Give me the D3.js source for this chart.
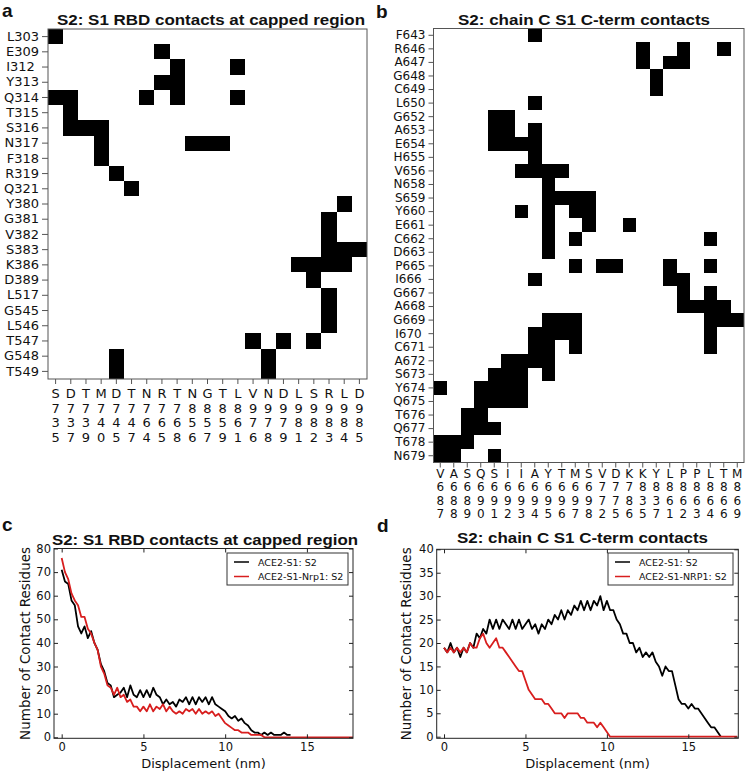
<!DOCTYPE html>
<html><head><meta charset="utf-8">
<script src="https://cdn.jsdelivr.net/npm/d3@7"></script>
<style>
body{margin:0;background:#fff}
svg{display:block}
text{font-family:"DejaVu Sans",sans-serif;fill:#111}
.ttl{font-family:"Liberation Sans",Arial,sans-serif;font-weight:bold}
</style>
</head><body><svg id="chart" width="747" height="774"></svg>
<script>
// ---------- Panel a: S2 residues (rows) vs S1 RBD residues (columns)
const rowsA = ["L303","E309","I312 ","Y313","Q314","T315","S316","N317","F318","R319","Q321","Y380","G381","V382","S383","K386","D389","L517","G545","L546","T547","G548","T549"];
const colsA = ["S735","D737","T739","M740","D745","T747","N764","R765","T768","N856","G857","T859","L861","V976","N978","D979","L981","S982","R983","L984","D985"];
// contacting column indices for each row of rowsA
const contactsA = [[0],[7],[8,12],[7,8],[0,1,6,8,12],[1],[1,2,3],[3,9,10,11],[3],[4],[5],[19],[18],[18],[18,19,20],[16,17,18,19],[17],[18],[18],[18],[13,15,17],[4,14],[4,14]];

// ---------- Panel b: chain C S1 C-term contacts
const rowsB = ["F643","R646","A647","G648","C649","L650","G652","A653","E654","H655","V656","N658","S659","Y660","E661","C662","D663","P665","I666 ","G667","A668","G669","I670 ","C671","A672","S673","Y674","Q675","T676","Q677","T678","N679"];
const colsB = ["V687","A688","S689","Q690","S691","I692","I693","A694","Y695","T696","M697","S698","V772","D775","K786","K835","Y837","L861","P862","P863","L864","T866","M869"];
const contactsB = [[7],[15,18,21],[15,17,18],[16],[16],[7],[4,5],[4,5,7],[4,5,6,7],[7],[6,7,8,9],[8],[8,9,10,11],[6,8,10,11],[8,11,14],[8,10,20],[8],[10,12,13,17,20],[7,17,18],[18,20],[18,19,20,21],[8,9,10,20,21,22],[7,8,9,10,20],[7,8,10,20],[5,6,7,8],[4,5,6,8],[0,3,4,5,6],[3,4,5,6],[2,3],[2,3,4],[0,1,2],[0,1,4]];

// ---------- Panels c, d: number of contact residues vs displacement (sampled every 0.2 nm from 0)
const stepNm = 0.2;
const cBlack = [71,66,65,58,56, 47,44,47,42,45, 40,37,31,28,23, 22,17,18,19,21, 17,22,18,17,20, 17,20,17,21,18, 17,14,16,14,15, 13,16,15,17,14, 17,14,17,15,17, 14,17,14,13,12, 11,9,8,9,7, 8,6,5,3,2, 2,1,2,1,2, 1,1,1,2,1, 1];
const cRed = [76,70,67,61,58, 56,51,51,46,44, 40,37,30,27,22, 21,18,21,17,18, 15,16,13,13,11, 13,11,14,11,13, 12,14,11,13,11, 10,11,10,12,11, 12,10,12,10,11, 10,11,9,10,8, 6,5,4,3,3, 2,2,2,1,1, 1,1,0,0,0, 0,0,0,0,0, 0,0,0,0,0, 0,0,0,0,0, 0,0,0,0,0, 0,0,0,0,0, 0];
const dBlack = [19,18,20,18,19, 17,19,18,20,19, 22,21,23,22,25, 23,25,23,25,24, 23,25,23,25,23, 24,25,23,24,22, 24,23,25,24,26, 25,27,25,27,26, 28,27,29,27,29, 27,29,28,30,27, 29,27,27,25,24, 22,22,20,20,18, 19,17,18,17,18, 16,15,13,15,14, 14,11,8,7,7, 6,7,6,6,5, 4,3,2,2,1, 0];
const dRed = [19,18,19,18,19, 18,19,18,20,19, 19,21,22,20,19, 20,21,19,19,18, 17,16,15,14,14, 12,10,9,8,8, 8,7,7,6,5, 5,5,4,5,5, 5,5,4,4,3, 3,3,2,3,2, 1,0,0,0,0, 0,0,0,0,0, 0,0,0,0,0, 0,0,0,0,0, 0,0,0,0,0, 0,0,0,0,0, 0,0,0,0,0, 0,0,0,0,0, 0];
const legendC = ["ACE2-S1: S2","ACE2-S1-Nrp1: S2"];
const legendD = ["ACE2-S1: S2","ACE2-S1-NRP1: S2"];
const yTicksC = [0,10,20,30,40,50,60,70,80];
const yTicksD = [0,5,10,15,20,25,30,35,40];
const xTicks = [0,5,10,15];
const RED = "#d81e1e";

const svg = d3.select("#chart");

function heatmap(o){
  const x = d3.scaleBand().domain(o.cols).range([o.x0,o.x1]);
  const y = d3.scaleBand().domain(o.rows).range([o.y0,o.y1]);
  const g = svg.append("g");
  const cells = o.contacts.flatMap((cs,i)=>cs.map(c=>({r:o.rows[i], c:o.cols[c]})));
  g.selectAll("rect.cell").data(cells).join("rect").attr("class","cell")
    .attr("x",d=>x(d.c)).attr("y",d=>y(d.r))
    .attr("width",x.bandwidth()).attr("height",y.bandwidth())
    .attr("fill","#000").attr("shape-rendering","crispEdges");
  g.append("rect").attr("x",o.x0).attr("y",o.y0).attr("width",o.x1-o.x0).attr("height",o.y1-o.y0)
    .attr("fill","none").attr("stroke","#555").attr("stroke-width",1);
  const ya = g.append("g").attr("transform",`translate(${o.x0},0)`)
    .call(d3.axisLeft(y).tickSize(o.tick).tickPadding(o.pad));
  ya.select(".domain").remove();
  ya.selectAll("line").attr("stroke","#555");
  ya.selectAll("text").style("font-size",o.fs+"px").style("white-space","pre").attr("fill","#111");
  const xa = g.append("g").attr("transform",`translate(0,${o.y1})`)
    .call(d3.axisBottom(x).tickSize(5).tickFormat(""));
  xa.select(".domain").remove();
  xa.selectAll("line").attr("stroke","#555");
  const lab = g.selectAll("text.xl").data(o.cols).join("text").attr("class","xl")
    .attr("text-anchor","middle").style("font-size",o.fs+"px");
  lab.each(function(d){
    const t = d3.select(this);
    d.split("").forEach((ch,i)=>{
      t.append("tspan").attr("x",x(d)+x.bandwidth()/2).attr("y",o.lb+i*o.ls).text(ch);
    });
  });
}

heatmap({rows:rowsA, cols:colsA, contacts:contactsA, x0:48, x1:367, y0:29, y1:379, tick:6, pad:3, fs:13, lb:398, ls:14.7});
heatmap({rows:rowsB, cols:colsB, contacts:contactsB, x0:433.5, x1:744, y0:28.5, y1:462.5, tick:5, pad:3, fs:12, lb:478, ls:13.4});

function lineChart(o){
  const x = d3.scaleLinear().domain(o.xd).range([o.x0,o.x1]);
  const y = d3.scaleLinear().domain([0,o.ymax]).range([o.y0v,o.y80]);
  const g = svg.append("g");
  const cid = "clip"+o.id;
  g.append("clipPath").attr("id",cid).append("rect")
    .attr("x",o.x0).attr("y",o.yt).attr("width",o.x1-o.x0).attr("height",o.yb-o.yt);
  const line = d3.line().x((d,i)=>x(i*stepNm)).y(d=>y(d));
  g.append("path").datum(o.black).attr("d",line).attr("fill","none").attr("stroke","#000")
    .attr("stroke-width",1.8).attr("stroke-linejoin","round").attr("clip-path",`url(#${cid})`);
  g.append("path").datum(o.red).attr("d",line).attr("fill","none").attr("stroke",RED)
    .attr("stroke-width",1.8).attr("stroke-linejoin","round").attr("clip-path",`url(#${cid})`);
  // axes
  const ab = g.append("g").attr("transform",`translate(0,${o.yb})`)
    .call(d3.axisBottom(x).tickValues(xTicks).tickSizeInner(-4).tickSizeOuter(0).tickPadding(5));
  const at = g.append("g").attr("transform",`translate(0,${o.yt})`)
    .call(d3.axisTop(x).tickValues(xTicks).tickSizeInner(-4).tickSizeOuter(0).tickFormat(""));
  const al = g.append("g").attr("transform",`translate(${o.x0},0)`)
    .call(d3.axisLeft(y).tickValues(o.yticks).tickSizeInner(-4).tickSizeOuter(0).tickPadding(3));
  const ar = g.append("g").attr("transform",`translate(${o.x1},0)`)
    .call(d3.axisRight(y).tickValues(o.yticks).tickSizeInner(-4).tickSizeOuter(0).tickFormat(""));
  [ab,at,al,ar].forEach(a=>{a.select(".domain").remove(); a.selectAll("line").attr("stroke","#222");
    a.selectAll("text").style("font-size","11.5px").attr("fill","#222");});
  g.append("rect").attr("x",o.x0).attr("y",o.yt).attr("width",o.x1-o.x0).attr("height",o.yb-o.yt)
    .attr("fill","none").attr("stroke","#222").attr("stroke-width",1);
  // labels
  g.append("text").attr("x",(o.x0+o.x1)/2).attr("y",768).attr("text-anchor","middle")
    .style("font-size","13px").attr("fill","#222").text("Displacement (nm)");
  g.append("text").attr("transform",`translate(${o.ylx},${(o.yt+o.yb)/2}) rotate(-90)`)
    .attr("text-anchor","middle").style("font-size","13.5px").attr("fill","#222").text("Number of Contact Residues");
  // legend
  const L = o.leg;
  g.append("rect").attr("x",L.x).attr("y",L.y).attr("width",L.w).attr("height",L.h)
    .attr("fill","#fff").attr("stroke","#333").attr("stroke-width",1);
  const items = [{t:o.legText[0],c:"#000"},{t:o.legText[1],c:RED}];
  const li = g.selectAll("g.li").data(items).join("g").attr("class","li")
    .attr("transform",(d,i)=>`translate(${L.x},${L.y+9+i*14.5})`);
  li.append("line").attr("x1",L.lx).attr("x2",L.lx+15).attr("y1",0).attr("y2",0)
    .attr("stroke",d=>d.c).attr("stroke-width",1.5);
  li.append("text").attr("x",L.tx).attr("y",3.5).style("font-size","9.5px").attr("fill","#222").text(d=>d.t);
}

lineChart({id:"c", black:cBlack, red:cRed, xd:[-0.47,17.82], x0:54, x1:353, yt:548.5, yb:738.3,
  ymax:80, y0v:737.3, y80:548.5, yticks:yTicksC, ylx:30, legText:legendC,
  leg:{x:227, y:553, w:121, h:32, lx:7, tx:31}});
lineChart({id:"d", black:dBlack, red:dRed, xd:[-0.45,18.07], x0:436.7, x1:738.3, yt:549.3, yb:738.3,
  ymax:40, y0v:736.7, y80:549.3, yticks:yTicksD, ylx:411, legText:legendD,
  leg:{x:608, y:553, w:125, h:32, lx:7, tx:31}});

// titles
const titles = [
  {t:"S2: S1 RBD contacts at capped region", x:57, y:25, w:308},
  {t:"S2: chain C S1 C-term contacts", x:458, y:25, w:252},
  {t:"S2: S1 RBD contacts at capped region", x:52, y:545, w:306},
  {t:"S2: chain C S1 C-term contacts", x:457, y:543, w:251}
];
svg.selectAll("text.ttl").data(titles).join("text").attr("class","ttl")
  .attr("x",d=>d.x).attr("y",d=>d.y).attr("textLength",d=>d.w).attr("lengthAdjust","spacingAndGlyphs")
  .style("font-size","15px").attr("fill","#000").text(d=>d.t);
const letters = [{t:"a",x:2,y:17},{t:"b",x:376,y:18},{t:"c",x:2,y:531},{t:"d",x:377,y:532}];
svg.selectAll("text.let").data(letters).join("text").attr("class","let ttl")
  .attr("x",d=>d.x).attr("y",d=>d.y).style("font-size","19px").attr("fill","#000").text(d=>d.t);
</script>
</body></html>
